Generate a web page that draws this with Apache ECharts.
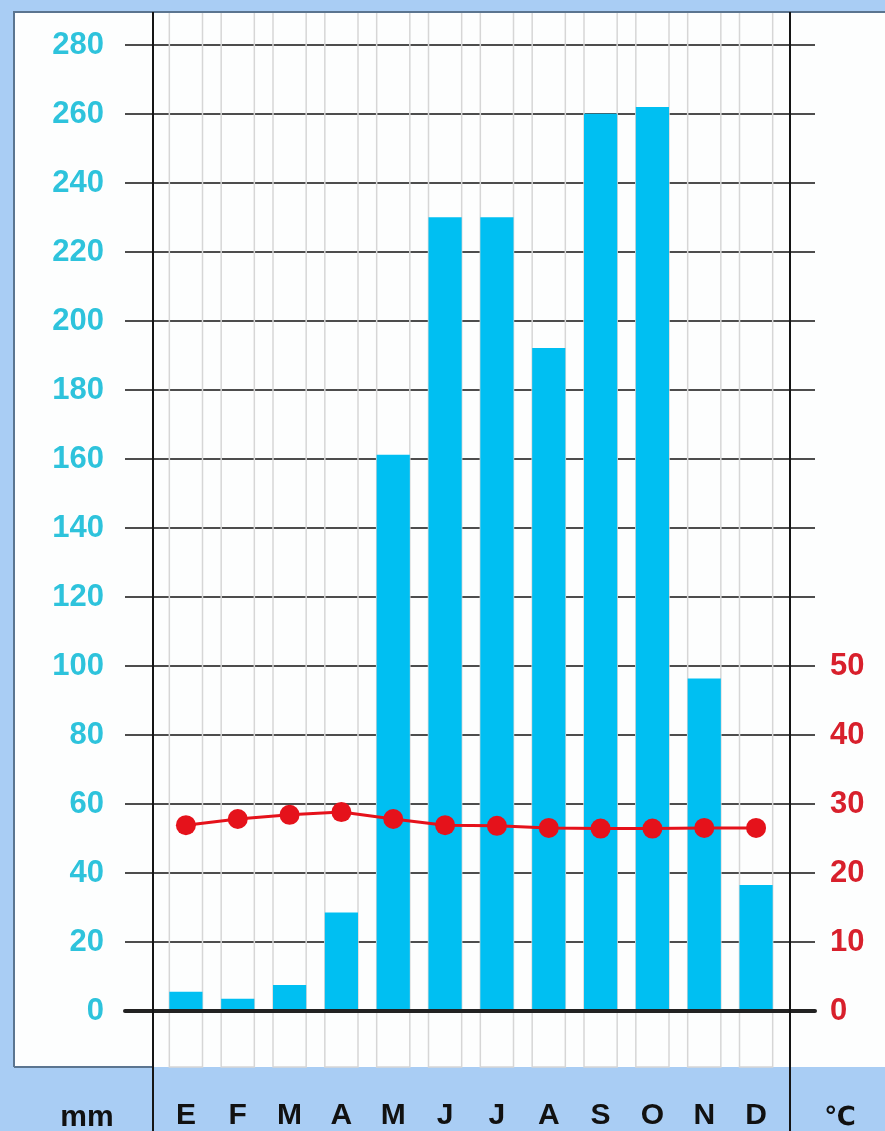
<!DOCTYPE html>
<html>
<head>
<meta charset="utf-8">
<script src="https://cdn.jsdelivr.net/npm/echarts@6/dist/echarts.min.js"></script>
<style>
  html, body { margin: 0; padding: 0; background: #a9cdf4; }
  #chart { width: 885px; height: 1131px; }
</style>
</head>
<body>
<div id="chart"></div>
<script>
// meses
const months = ['E', 'F', 'M', 'A', 'M', 'J', 'J', 'A', 'S', 'O', 'N', 'D']
// precipitacion (mm)
const precipitation = [5, 3, 7, 28, 161, 230, 230, 192, 260, 262, 96, 36]
// temperatura (°C)
const temperature = [26.7, 27.6, 28.2, 28.6, 27.6, 26.7, 26.6, 26.3, 26.2, 26.2, 26.3, 26.3]
// etiquetas visibles del eje derecho
const tempTicks = [0, 10, 20, 30, 40, 50]

const font = 'Liberation Sans, Arial, sans-serif'

let chart = echarts.init(document.getElementById('chart'))

let option = {
  backgroundColor: '#a9cdf4',
  animation: false,
  graphic: [
    // panel blanco
    { type: 'rect', z: -10, shape: { x: 14, y: 12, width: 880, height: 1055 }, style: { fill: '#fdfefe' } },
    { type: 'polyline', z: 50, shape: { points: [[14, 1067], [14, 12], [885, 12]] }, style: { stroke: '#5b7590', lineWidth: 2, fill: null } },
    { type: 'line', z: 50, shape: { x1: 14, y1: 1067, x2: 153, y2: 1067 }, style: { stroke: '#5b7590', lineWidth: 2 } },
    // lineas verticales del marco
    { type: 'line', z: 50, shape: { x1: 153, y1: 12, x2: 153, y2: 1131 }, style: { stroke: '#151515', lineWidth: 2 } },
    { type: 'line', z: 50, shape: { x1: 790, y1: 12, x2: 790, y2: 1131 }, style: { stroke: '#151515', lineWidth: 2 } },
    { type: 'text', z: 50, style: { text: 'mm', x: 87, y: 1118, align: 'center', verticalAlign: 'middle', font: 'bold 30px ' + font, fill: '#111' } },
    { type: 'text', z: 50, style: { text: '℃', x: 840, y: 1118, align: 'center', verticalAlign: 'middle', font: 'bold 26px DejaVu Sans, sans-serif', fill: '#111' } },
  ],
  grid: [
    // marco con lineas horizontales
    { left: 125, right: 70, top: 45, bottom: 120 },
    // datos
    { left: 160, right: 103, top: 45, bottom: 120 },
    // lineas verticales tenues
    { left: 160, right: 103, top: 12, bottom: 64 },
  ],
  xAxis: [
    {
      gridIndex: 0,
      type: 'value',
      min: 0,
      max: 1,
      z: 5,
      axisLine: { show: true, lineStyle: { color: '#222', width: 4 } },
      axisTick: { show: false },
      axisLabel: { show: false },
      splitLine: { show: false },
    },
    {
      gridIndex: 1,
      type: 'category',
      data: months,
      axisLine: { show: false },
      axisTick: { show: false },
      axisLabel: { margin: 92, color: '#111', fontSize: 30, fontWeight: 'bold', fontFamily: font },
    },
    {
      gridIndex: 2,
      type: 'category',
      data: months,
      show: false,
    },
  ],
  yAxis: [
    {
      gridIndex: 0,
      type: 'value',
      min: 0,
      max: 280,
      interval: 20,
      axisLine: { show: false },
      axisTick: { show: false },
      axisLabel: { margin: 21, color: '#2ec3dc', fontSize: 31, fontWeight: 'bold', fontFamily: font },
      splitLine: { lineStyle: { color: '#4d4d4d', width: 2 } },
    },
    {
      gridIndex: 0,
      type: 'value',
      position: 'right',
      min: 0,
      max: 140,
      interval: 10,
      axisLine: { show: false },
      axisTick: { show: false },
      axisLabel: {
        margin: 15,
        color: '#d8202c',
        fontSize: 31,
        fontWeight: 'bold',
        fontFamily: font,
        formatter: (v) => (tempTicks.includes(v) ? String(v) : ''),
      },
      splitLine: { show: false },
    },
    { gridIndex: 1, type: 'value', min: 0, max: 280, show: false },
    { gridIndex: 1, type: 'value', min: 0, max: 140, show: false },
    { gridIndex: 2, type: 'value', min: 0, max: 1000, show: false },
  ],
  series: [
    {
      name: 'fondo',
      type: 'bar',
      xAxisIndex: 2,
      yAxisIndex: 4,
      z: 0,
      silent: true,
      barWidth: '64%',
      data: precipitation,
      itemStyle: { color: 'rgba(0,0,0,0)' },
      showBackground: true,
      backgroundStyle: { color: 'rgba(0,0,0,0)', borderColor: '#d6d6d6', borderWidth: 1.5 },
    },
    {
      name: 'Precipitación',
      type: 'bar',
      xAxisIndex: 1,
      yAxisIndex: 2,
      z: 2,
      barWidth: '64%',
      data: precipitation,
      itemStyle: { color: '#00bff2' },
    },
    {
      name: 'Temperatura',
      type: 'line',
      xAxisIndex: 1,
      yAxisIndex: 3,
      z: 4,
      data: temperature,
      symbol: 'circle',
      symbolSize: 20,
      lineStyle: { color: '#e5121b', width: 3 },
      itemStyle: { color: '#e5121b' },
    },
  ],
}

chart.setOption(option)
</script>
</body>
</html>
